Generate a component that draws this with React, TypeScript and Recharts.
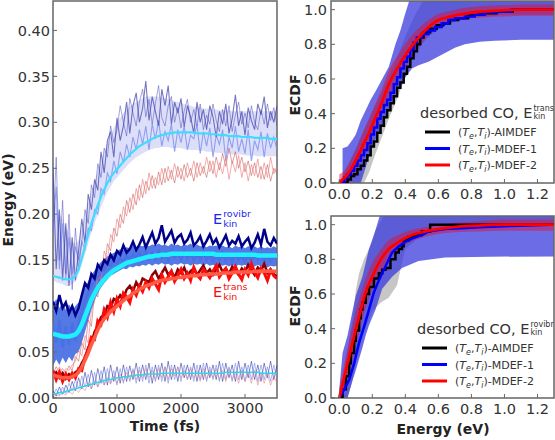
import React from "react";
import { ComposedChart, Line, Area, XAxis, YAxis, ReferenceArea } from "recharts";

// ---------- left panel: energy vs time ----------
const TIME_FS = [
  0, 50, 100, 150, 200, 250, 300, 350, 400, 450,
  500, 550, 600, 650, 700, 750, 800, 850, 900, 950,
  1000, 1050, 1100, 1150, 1200, 1250, 1300, 1350, 1400, 1450,
  1500, 1550, 1600, 1650, 1700, 1750, 1800, 1850, 1900, 1950,
  2000, 2050, 2100, 2150, 2200, 2250, 2300, 2350, 2400, 2450,
  2500, 2550, 2600, 2650, 2700, 2750, 2800, 2850, 2900, 2950,
  3000, 3050, 3100, 3150, 3200, 3250, 3300, 3350, 3400, 3450,
  3500,
];

// upper group (total)
const UP_CYAN = [
  0.133, 0.132, 0.131, 0.130, 0.129, 0.129, 0.130, 0.133, 0.140, 0.152,
  0.165, 0.178, 0.190, 0.200, 0.210, 0.219, 0.227, 0.234, 0.240, 0.245,
  0.249, 0.253, 0.257, 0.261, 0.265, 0.268, 0.271, 0.274, 0.276, 0.278,
  0.280, 0.282, 0.284, 0.285, 0.286, 0.287, 0.288, 0.288, 0.289, 0.289,
  0.289, 0.289, 0.289, 0.289, 0.289, 0.288, 0.288, 0.288, 0.288, 0.287,
  0.287, 0.287, 0.286, 0.286, 0.286, 0.285, 0.285, 0.285, 0.285, 0.284,
  0.284, 0.284, 0.284, 0.283, 0.283, 0.283, 0.283, 0.283, 0.282, 0.282,
  0.282,
];
const UP_LO = [
  0.128, 0.126, 0.125, 0.124, 0.122, 0.122, 0.124, 0.127, 0.134, 0.145,
  0.156, 0.168, 0.180, 0.190, 0.200, 0.208, 0.216, 0.224, 0.230, 0.236,
  0.240, 0.244, 0.248, 0.252, 0.256, 0.259, 0.262, 0.264, 0.266, 0.268,
  0.270, 0.271, 0.272, 0.272, 0.273, 0.273, 0.273, 0.272, 0.272, 0.272,
  0.272, 0.271, 0.271, 0.270, 0.270, 0.270, 0.269, 0.269, 0.268, 0.268,
  0.268, 0.267, 0.267, 0.266, 0.266, 0.266, 0.265, 0.265, 0.265, 0.265,
  0.264, 0.264, 0.264, 0.264, 0.263, 0.263, 0.263, 0.263, 0.263, 0.263,
  0.263,
];
const UP_HI = [
  0.215, 0.210, 0.200, 0.195, 0.185, 0.180, 0.170, 0.168, 0.172, 0.185,
  0.198, 0.212, 0.224, 0.236, 0.248, 0.258, 0.268, 0.278, 0.286, 0.294,
  0.300, 0.305, 0.310, 0.314, 0.317, 0.320, 0.322, 0.324, 0.326, 0.328,
  0.328, 0.328, 0.328, 0.328, 0.327, 0.326, 0.325, 0.324, 0.323, 0.322,
  0.321, 0.320, 0.319, 0.318, 0.317, 0.316, 0.316, 0.315, 0.315, 0.314,
  0.314, 0.314, 0.313, 0.313, 0.313, 0.313, 0.312, 0.312, 0.312, 0.312,
  0.312, 0.312, 0.312, 0.312, 0.312, 0.312, 0.312, 0.312, 0.312, 0.312,
  0.312,
];
const UP_DARK = [
  0.250, 0.140, 0.205, 0.128, 0.190, 0.122, 0.175, 0.128, 0.160, 0.195,
  0.168, 0.222, 0.205, 0.238, 0.226, 0.268, 0.245, 0.280, 0.290, 0.262,
  0.305, 0.280, 0.296, 0.322, 0.288, 0.318, 0.332, 0.300, 0.315, 0.345,
  0.302, 0.328, 0.312, 0.296, 0.336, 0.318, 0.340, 0.298, 0.322, 0.310,
  0.326, 0.295, 0.318, 0.306, 0.288, 0.322, 0.300, 0.314, 0.292, 0.318,
  0.306, 0.284, 0.312, 0.298, 0.320, 0.288, 0.304, 0.330, 0.296, 0.312,
  0.286, 0.316, 0.302, 0.292, 0.320, 0.308, 0.328, 0.294, 0.312, 0.300,
  0.318,
];
const UP_DARK_2 = [
  0.180, 0.262, 0.150, 0.215, 0.135, 0.200, 0.118, 0.185, 0.140, 0.170,
  0.205, 0.190, 0.232, 0.218, 0.255, 0.240, 0.272, 0.262, 0.296, 0.278,
  0.292, 0.318, 0.300, 0.285, 0.326, 0.310, 0.296, 0.322, 0.336, 0.306,
  0.325, 0.298, 0.320, 0.340, 0.305, 0.296, 0.318, 0.328, 0.300, 0.316,
  0.294, 0.312, 0.325, 0.300, 0.314, 0.296, 0.320, 0.292, 0.308, 0.298,
  0.320, 0.302, 0.290, 0.314, 0.296, 0.318, 0.290, 0.308, 0.322, 0.298,
  0.310, 0.294, 0.318, 0.300, 0.292, 0.314, 0.298, 0.320, 0.302, 0.316,
  0.296,
];
const UP_LIGHT = [
  0.180, 0.230, 0.140, 0.190, 0.130, 0.175, 0.135, 0.165, 0.150, 0.170,
  0.162, 0.185, 0.182, 0.205, 0.200, 0.228, 0.222, 0.245, 0.236, 0.258,
  0.244, 0.268, 0.256, 0.276, 0.262, 0.284, 0.270, 0.292, 0.276, 0.296,
  0.270, 0.298, 0.282, 0.302, 0.274, 0.290, 0.280, 0.298, 0.268, 0.292,
  0.278, 0.296, 0.270, 0.286, 0.282, 0.298, 0.266, 0.290, 0.274, 0.294,
  0.262, 0.286, 0.276, 0.292, 0.258, 0.284, 0.272, 0.296, 0.268, 0.282,
  0.266, 0.292, 0.258, 0.280, 0.270, 0.290, 0.262, 0.288, 0.272, 0.284,
  0.270,
];
const RED_THIN_A = [
  0.030, 0.028, 0.034, 0.026, 0.032, 0.030, 0.036, 0.040, 0.052, 0.046,
  0.068, 0.060, 0.095, 0.105, 0.135, 0.128, 0.160, 0.150, 0.178, 0.170,
  0.195, 0.185, 0.208, 0.198, 0.218, 0.205, 0.228, 0.215, 0.238, 0.222,
  0.245, 0.228, 0.240, 0.232, 0.250, 0.234, 0.252, 0.238, 0.255, 0.240,
  0.250, 0.236, 0.256, 0.242, 0.258, 0.240, 0.256, 0.244, 0.262, 0.246,
  0.258, 0.240, 0.256, 0.244, 0.262, 0.238, 0.258, 0.246, 0.264, 0.240,
  0.256, 0.236, 0.254, 0.242, 0.260, 0.238, 0.256, 0.240, 0.262, 0.244,
  0.252,
];
const RED_THIN_B = [
  0.026, 0.034, 0.028, 0.032, 0.027, 0.035, 0.030, 0.045, 0.040, 0.060,
  0.052, 0.085, 0.078, 0.115, 0.110, 0.145, 0.138, 0.168, 0.160, 0.185,
  0.176, 0.200, 0.190, 0.215, 0.202, 0.222, 0.210, 0.232, 0.218, 0.236,
  0.226, 0.242, 0.228, 0.246, 0.232, 0.250, 0.236, 0.248, 0.234, 0.252,
  0.238, 0.254, 0.240, 0.250, 0.236, 0.256, 0.242, 0.252, 0.240, 0.258,
  0.244, 0.262, 0.248, 0.266, 0.252, 0.272, 0.255, 0.268, 0.250, 0.262,
  0.246, 0.258, 0.242, 0.256, 0.240, 0.252, 0.238, 0.254, 0.236, 0.250,
  0.244,
];

// middle group (rovibr)
const MID_LO = [
  0.035, 0.042, 0.036, 0.044, 0.038, 0.045, 0.040, 0.048, 0.050, 0.060,
  0.072, 0.084, 0.096, 0.106, 0.114, 0.120, 0.125, 0.129, 0.133, 0.135,
  0.137, 0.139, 0.141, 0.140, 0.143, 0.142, 0.144, 0.143, 0.145, 0.144,
  0.146, 0.144, 0.146, 0.145, 0.147, 0.145, 0.146, 0.144, 0.146, 0.145,
  0.147, 0.145, 0.146, 0.144, 0.146, 0.145, 0.146, 0.144, 0.146, 0.144,
  0.145, 0.143, 0.145, 0.144, 0.145, 0.143, 0.145, 0.143, 0.145, 0.144,
  0.145, 0.143, 0.144, 0.143, 0.145, 0.143, 0.144, 0.142, 0.144, 0.143,
  0.144,
];
const MID_HI = [
  0.100, 0.108, 0.098, 0.104, 0.096, 0.102, 0.095, 0.100, 0.104, 0.112,
  0.120, 0.127, 0.133, 0.139, 0.144, 0.148, 0.151, 0.154, 0.156, 0.158,
  0.160, 0.162, 0.161, 0.164, 0.163, 0.166, 0.164, 0.166, 0.165, 0.167,
  0.165, 0.167, 0.166, 0.168, 0.166, 0.167, 0.165, 0.168, 0.166, 0.167,
  0.165, 0.167, 0.166, 0.168, 0.165, 0.167, 0.165, 0.166, 0.164, 0.166,
  0.165, 0.166, 0.164, 0.166, 0.164, 0.165, 0.163, 0.166, 0.164, 0.165,
  0.163, 0.165, 0.164, 0.165, 0.163, 0.165, 0.163, 0.164, 0.163, 0.165,
  0.163,
];
const MID_NAVY = [
  0.105, 0.095, 0.112, 0.098, 0.104, 0.092, 0.100, 0.090, 0.098, 0.112,
  0.125, 0.120, 0.135, 0.130, 0.145, 0.140, 0.150, 0.146, 0.156, 0.150,
  0.160, 0.156, 0.166, 0.158, 0.162, 0.170, 0.161, 0.167, 0.175, 0.164,
  0.172, 0.180, 0.168, 0.174, 0.188, 0.170, 0.176, 0.182, 0.169, 0.175,
  0.178, 0.168, 0.172, 0.180, 0.166, 0.170, 0.176, 0.165, 0.171, 0.178,
  0.168, 0.173, 0.164, 0.170, 0.177, 0.166, 0.171, 0.168, 0.176, 0.165,
  0.170, 0.174, 0.163, 0.169, 0.178, 0.167, 0.184, 0.170, 0.166, 0.174,
  0.168,
];
const MID_BLUE = [
  0.080, 0.060, 0.085, 0.055, 0.078, 0.058, 0.082, 0.062, 0.080, 0.095,
  0.105, 0.115, 0.122, 0.128, 0.132, 0.138, 0.140, 0.146, 0.144, 0.150,
  0.147, 0.152, 0.148, 0.155, 0.150, 0.157, 0.152, 0.158, 0.150, 0.160,
  0.152, 0.158, 0.151, 0.160, 0.152, 0.158, 0.150, 0.160, 0.153, 0.158,
  0.150, 0.160, 0.152, 0.158, 0.150, 0.157, 0.151, 0.159, 0.150, 0.157,
  0.149, 0.156, 0.150, 0.158, 0.149, 0.156, 0.148, 0.157, 0.150, 0.156,
  0.148, 0.155, 0.149, 0.157, 0.150, 0.156, 0.148, 0.155, 0.149, 0.156,
  0.150,
];
const MID_CYAN = [
  0.070, 0.069, 0.068, 0.067, 0.067, 0.067, 0.068, 0.069, 0.073, 0.080,
  0.089, 0.098, 0.107, 0.114, 0.120, 0.125, 0.129, 0.133, 0.136, 0.139,
  0.141, 0.143, 0.145, 0.147, 0.148, 0.149, 0.150, 0.151, 0.152, 0.153,
  0.154, 0.154, 0.155, 0.155, 0.156, 0.156, 0.156, 0.157, 0.157, 0.157,
  0.157, 0.157, 0.157, 0.157, 0.157, 0.157, 0.157, 0.157, 0.157, 0.157,
  0.157, 0.156, 0.156, 0.156, 0.156, 0.156, 0.156, 0.156, 0.156, 0.156,
  0.156, 0.156, 0.156, 0.156, 0.155, 0.155, 0.155, 0.155, 0.155, 0.155,
  0.155,
];

// red group (trans)
const RED_SMOOTH = [
  0.025, 0.024, 0.023, 0.022, 0.022, 0.022, 0.023, 0.025, 0.028, 0.034,
  0.041, 0.049, 0.058, 0.066, 0.074, 0.081, 0.086, 0.090, 0.094, 0.097,
  0.100, 0.103, 0.106, 0.109, 0.111, 0.114, 0.116, 0.118, 0.120, 0.122,
  0.123, 0.124, 0.126, 0.127, 0.128, 0.129, 0.129, 0.130, 0.130, 0.131,
  0.131, 0.132, 0.132, 0.133, 0.133, 0.133, 0.134, 0.134, 0.134, 0.135,
  0.135, 0.135, 0.135, 0.136, 0.136, 0.136, 0.136, 0.137, 0.137, 0.137,
  0.137, 0.137, 0.137, 0.138, 0.138, 0.138, 0.138, 0.138, 0.138, 0.138,
  0.138,
];
const RED_BRIGHT = [
  0.030, 0.020, 0.028, 0.018, 0.026, 0.020, 0.027, 0.022, 0.032, 0.030,
  0.045, 0.052, 0.066, 0.064, 0.084, 0.080, 0.096, 0.088, 0.104, 0.094,
  0.108, 0.100, 0.114, 0.110, 0.104, 0.118, 0.112, 0.122, 0.116, 0.126,
  0.120, 0.130, 0.124, 0.118, 0.134, 0.126, 0.132, 0.138, 0.127, 0.133,
  0.140, 0.130, 0.136, 0.128, 0.142, 0.134, 0.130, 0.140, 0.136, 0.131,
  0.138, 0.144, 0.132, 0.137, 0.141, 0.130, 0.136, 0.143, 0.135, 0.129,
  0.140, 0.134, 0.146, 0.137, 0.131, 0.141, 0.136, 0.128, 0.139, 0.133,
  0.130,
];
const RED_DARK = [
  0.024, 0.028, 0.022, 0.027, 0.021, 0.026, 0.023, 0.028, 0.030, 0.038,
  0.044, 0.055, 0.060, 0.072, 0.078, 0.088, 0.090, 0.100, 0.098, 0.108,
  0.106, 0.112, 0.108, 0.118, 0.122, 0.116, 0.126, 0.120, 0.130, 0.128,
  0.126, 0.134, 0.138, 0.130, 0.136, 0.142, 0.134, 0.138, 0.131, 0.140,
  0.136, 0.142, 0.133, 0.138, 0.141, 0.134, 0.139, 0.144, 0.136, 0.140,
  0.134, 0.140, 0.145, 0.137, 0.141, 0.135, 0.143, 0.138, 0.134, 0.141,
  0.137, 0.145, 0.139, 0.134, 0.142, 0.138, 0.146, 0.136, 0.140, 0.135,
  0.132,
];

// bottom group
const LOW_CYAN = [
  0.004, 0.005, 0.006, 0.006, 0.007, 0.008, 0.009, 0.010, 0.011, 0.012,
  0.013, 0.014, 0.015, 0.016, 0.017, 0.018, 0.019, 0.020, 0.020, 0.021,
  0.022, 0.022, 0.023, 0.023, 0.024, 0.024, 0.025, 0.025, 0.025, 0.026,
  0.026, 0.026, 0.026, 0.026, 0.027, 0.027, 0.027, 0.027, 0.027, 0.027,
  0.027, 0.027, 0.027, 0.027, 0.027, 0.027, 0.027, 0.027, 0.027, 0.027,
  0.027, 0.027, 0.027, 0.027, 0.028, 0.028, 0.028, 0.028, 0.028, 0.028,
  0.028, 0.028, 0.028, 0.028, 0.028, 0.027, 0.027, 0.027, 0.027, 0.027,
  0.027,
];
const LOW_NAVY = [
  0.008, 0.002, 0.012, 0.004, 0.014, 0.006, 0.018, 0.008, 0.022, 0.010,
  0.028, 0.012, 0.030, 0.014, 0.032, 0.016, 0.034, 0.014, 0.036, 0.018,
  0.034, 0.016, 0.036, 0.018, 0.035, 0.020, 0.038, 0.018, 0.036, 0.020,
  0.038, 0.016, 0.036, 0.020, 0.038, 0.018, 0.040, 0.020, 0.036, 0.018,
  0.038, 0.022, 0.036, 0.020, 0.038, 0.018, 0.036, 0.020, 0.038, 0.022,
  0.036, 0.020, 0.040, 0.018, 0.038, 0.022, 0.036, 0.018, 0.040, 0.020,
  0.038, 0.022, 0.040, 0.020, 0.036, 0.018, 0.038, 0.022, 0.040, 0.020,
  0.036,
];
const LOW_LIGHT = [
  0.002, 0.010, 0.003, 0.012, 0.005, 0.016, 0.008, 0.020, 0.010, 0.024,
  0.012, 0.026, 0.010, 0.028, 0.012, 0.030, 0.014, 0.032, 0.016, 0.030,
  0.014, 0.032, 0.016, 0.034, 0.018, 0.032, 0.016, 0.034, 0.018, 0.036,
  0.016, 0.034, 0.018, 0.036, 0.018, 0.034, 0.016, 0.036, 0.020, 0.034,
  0.018, 0.036, 0.020, 0.034, 0.018, 0.036, 0.020, 0.038, 0.018, 0.034,
  0.020, 0.036, 0.018, 0.038, 0.020, 0.034, 0.018, 0.038, 0.020, 0.034,
  0.018, 0.036, 0.020, 0.038, 0.018, 0.036, 0.020, 0.034, 0.018, 0.036,
  0.020,
];
const LOW_RED = [
  0.000, 0.004, 0.002, 0.006, 0.003, 0.008, 0.004, 0.010, 0.006, 0.012,
  0.008, 0.016, 0.010, 0.018, 0.012, 0.020, 0.014, 0.022, 0.015, 0.024,
  0.016, 0.026, 0.018, 0.028, 0.020, 0.030, 0.020, 0.030, 0.022, 0.032,
  0.022, 0.030, 0.020, 0.032, 0.022, 0.034, 0.020, 0.032, 0.024, 0.034,
  0.022, 0.030, 0.020, 0.032, 0.022, 0.030, 0.018, 0.032, 0.020, 0.030,
  0.022, 0.032, 0.020, 0.030, 0.018, 0.032, 0.020, 0.028, 0.016, 0.030,
  0.018, 0.028, 0.016, 0.030, 0.014, 0.028, 0.016, 0.026, 0.014, 0.024,
  0.016,
];

const ENERGY_TICKS = [0, 0.05, 0.1, 0.15, 0.2, 0.25, 0.3, 0.35, 0.4];
const TIME_TICKS = [0, 1000, 2000, 3000];

// ---------- right panels: ECDF ----------
const ECDF_TICKS = [0, 0.2, 0.4, 0.6, 0.8, 1.0];
const E_TICKS = [0, 0.2, 0.4, 0.6, 0.8, 1.0, 1.2];

// translational
const TR_AIMDEF_E = [0.00, 0.05, 0.07, 0.09, 0.11, 0.13, 0.15, 0.17, 0.19, 0.21, 0.23, 0.25, 0.27, 0.29, 0.31, 0.33, 0.35, 0.37, 0.39, 0.41, 0.43, 0.45, 0.47, 0.49, 0.51, 0.55, 0.59, 0.63, 0.67, 0.72, 0.78, 0.85, 0.95, 1.05, 1.3];
const TR_AIMDEF_Y = [0.00, 0.02, 0.04, 0.05, 0.08, 0.10, 0.13, 0.16, 0.21, 0.24, 0.29, 0.33, 0.38, 0.42, 0.46, 0.50, 0.55, 0.58, 0.63, 0.67, 0.72, 0.76, 0.80, 0.84, 0.87, 0.89, 0.91, 0.92, 0.94, 0.95, 0.97, 0.98, 0.99, 1.00, 1.00];
const TR_MDEF1_E = [0.00, 0.03, 0.05, 0.07, 0.09, 0.11, 0.13, 0.15, 0.17, 0.19, 0.21, 0.23, 0.25, 0.27, 0.29, 0.31, 0.33, 0.35, 0.37, 0.39, 0.41, 0.43, 0.45, 0.47, 0.50, 0.54, 0.58, 0.62, 0.66, 0.70, 0.76, 0.82, 0.88, 0.96, 1.04, 1.30];
const TR_MDEF1_Y = [0.00, 0.03, 0.05, 0.07, 0.10, 0.13, 0.16, 0.19, 0.23, 0.28, 0.32, 0.37, 0.41, 0.45, 0.48, 0.52, 0.57, 0.61, 0.66, 0.70, 0.73, 0.77, 0.81, 0.84, 0.86, 0.88, 0.90, 0.92, 0.94, 0.95, 0.96, 0.97, 0.985, 0.99, 1.00, 1.00];
const TR_MDEF2_E = [0, 0.02, 0.05, 0.10, 0.13, 0.18, 0.22, 0.26, 0.30, 0.35, 0.42, 0.50, 0.60, 0.66, 0.75, 0.85, 1.0, 1.1, 1.3];
const TR_MDEF2_Y = [0, 0.02, 0.05, 0.13, 0.19, 0.29, 0.38, 0.47, 0.57, 0.66, 0.765, 0.86, 0.94, 0.957, 0.975, 0.988, 0.997, 1.0, 1.0];
const TR_MDEF2_LO = [0, 0, 0, 0.07, 0.12, 0.21, 0.30, 0.39, 0.49, 0.59, 0.70, 0.81, 0.90, 0.925, 0.945, 0.955, 0.96, 0.965, 0.965];
const TR_MDEF2_HI = [0.05, 0.06, 0.10, 0.19, 0.26, 0.37, 0.46, 0.55, 0.65, 0.73, 0.83, 0.91, 0.975, 0.99, 1.01, 1.02, 1.025, 1.03, 1.03];
const TR_MDEF1_BAND_E = [0.00, 0.02, 0.02, 0.05, 0.08, 0.10, 0.13, 0.16, 0.19, 0.22, 0.26, 0.30, 0.34, 0.37, 0.40, 0.44, 0.48, 0.54, 0.60, 0.64, 0.70, 0.76, 0.85, 0.94, 1.10, 1.30];
const TR_MDEF1_LO = [0, 0, 0, 0, 0, 0, 0, 0.09, 0.19, 0.25, 0.33, 0.42, 0.51, 0.57, 0.61, 0.66, 0.68, 0.70, 0.73, 0.75, 0.78, 0.80, 0.815, 0.82, 0.826, 0.826];
const TR_MDEF1_HI = [0, 0, 0.20, 0.21, 0.25, 0.28, 0.36, 0.42, 0.48, 0.53, 0.60, 0.67, 0.80, 0.88, 0.98, 1.10, 1.10, 1.10, 1.10, 1.10, 1.10, 1.10, 1.10, 1.10, 1.10, 1.10];
const TR_AIMDEF_BAND_E = [0, 0.05, 0.10, 0.15, 0.18, 0.22, 0.26, 0.30, 0.34, 0.38, 0.42, 0.46, 0.50, 0.56, 0.62, 0.70, 0.80, 1.0, 1.3];
const TR_AIMDEF_LO = [0, 0, 0, 0, 0.06, 0.17, 0.27, 0.37, 0.46, 0.56, 0.66, 0.74, 0.80, 0.86, 0.90, 0.93, 0.95, 0.97, 0.97];
const TR_AIMDEF_HI = [0, 0.10, 0.20, 0.31, 0.37, 0.45, 0.53, 0.61, 0.70, 0.80, 0.89, 0.97, 1.04, 1.10, 1.10, 1.10, 1.10, 1.10, 1.10];

// rovibrational
const RV_AIMDEF_E = [0, 0.02, 0.04, 0.06, 0.07, 0.09, 0.10, 0.12, 0.13, 0.14, 0.16, 0.18, 0.21, 0.24, 0.26, 0.28, 0.31, 0.34, 0.36, 0.38, 0.39, 0.42, 0.46, 0.50, 0.55, 1.3];
const RV_AIMDEF_Y = [0, 0.05, 0.125, 0.20, 0.26, 0.33, 0.39, 0.46, 0.51, 0.55, 0.60, 0.64, 0.69, 0.72, 0.74, 0.75, 0.80, 0.84, 0.86, 0.875, 0.91, 0.93, 0.94, 0.96, 1.0, 1.0];
const RV_MDEF1_E = [0, 0.03, 0.06, 0.09, 0.12, 0.15, 0.18, 0.21, 0.24, 0.28, 0.32, 0.36, 0.40, 0.44, 0.50, 0.54, 0.64, 0.74, 0.84, 1.04, 1.28, 1.3];
const RV_MDEF1_Y = [0, 0.05, 0.105, 0.20, 0.32, 0.41, 0.51, 0.61, 0.68, 0.76, 0.84, 0.875, 0.90, 0.92, 0.94, 0.96, 0.975, 0.98, 0.985, 0.993, 1.0, 1.0];
const RV_MDEF2_E = [0, 0.04, 0.08, 0.12, 0.16, 0.20, 0.24, 0.30, 0.36, 0.44, 0.54, 0.68, 0.84, 1.0, 1.3];
const RV_MDEF2_Y = [0, 0.16, 0.32, 0.47, 0.61, 0.70, 0.78, 0.86, 0.90, 0.94, 0.965, 0.985, 0.995, 1.0, 1.0];
const RV_MDEF2_LO = [0, 0.07, 0.22, 0.38, 0.52, 0.63, 0.71, 0.80, 0.86, 0.905, 0.935, 0.955, 0.96, 0.965, 0.965];
const RV_MDEF2_HI = [0.05, 0.24, 0.42, 0.57, 0.69, 0.78, 0.84, 0.91, 0.94, 0.97, 0.99, 1.01, 1.02, 1.03, 1.03];
const RV_MDEF1_BAND_E = [0, 0.02, 0.05, 0.08, 0.10, 0.14, 0.16, 0.18, 0.22, 0.26, 0.32, 0.38, 0.48, 0.64, 0.9, 1.3];
const RV_MDEF1_LO = [0, 0, 0, 0.10, 0.16, 0.29, 0.36, 0.42, 0.51, 0.63, 0.70, 0.75, 0.79, 0.81, 0.815, 0.817];
const RV_MDEF1_HI = [0.05, 0.26, 0.36, 0.50, 0.59, 0.70, 0.78, 0.86, 0.97, 1.1, 1.1, 1.1, 1.1, 1.1, 1.1, 1.1];
const RV_AIMDEF_BAND_E = [0, 0.03, 0.05, 0.08, 0.10, 0.12, 0.15, 0.20, 0.22, 0.25, 0.30, 0.35, 0.38, 0.40, 0.45, 0.50, 0.55, 1.3];
const RV_AIMDEF_LO = [0, 0, 0, 0.10, 0.20, 0.27, 0.38, 0.50, 0.52, 0.55, 0.58, 0.65, 0.78, 0.86, 0.90, 0.95, 0.99, 1.0];
const RV_AIMDEF_HI = [0, 0.15, 0.28, 0.45, 0.62, 0.72, 0.80, 0.90, 0.97, 1.02, 1.1, 1.1, 1.1, 1.1, 1.1, 1.1, 1.1, 1.1];

const FONT = "'DejaVu Sans', sans-serif";
const TICK = { fill: "#333", fontSize: 14.5, fontFamily: FONT };
const FRAME = "#666";

const timeRows = TIME_FS.map((t, i) => ({
  t,
  upBand: [UP_LO[i], UP_HI[i]],
  upCyan: UP_CYAN[i],
  upDark: UP_DARK[i],
  upDark2: UP_DARK_2[i],
  upLight: UP_LIGHT[i],
  redThinA: RED_THIN_A[i],
  redThinB: RED_THIN_B[i],
  midBand: [MID_LO[i], MID_HI[i]],
  midNavy: MID_NAVY[i],
  midBlue: MID_BLUE[i],
  midCyan: MID_CYAN[i],
  redSmooth: RED_SMOOTH[i],
  redBright: RED_BRIGHT[i],
  redDark: RED_DARK[i],
  lowCyan: LOW_CYAN[i],
  lowNavy: LOW_NAVY[i],
  lowLight: LOW_LIGHT[i],
  lowRed: LOW_RED[i],
}));

const pts = (es: number[], ys: number[]) => es.map((e, i) => ({ e, y: ys[i] }));
const band = (es: number[], lo: number[], hi: number[]) =>
  es.map((e, i) => ({ e, band: [lo[i], hi[i]] }));

function noisy(key: string, color: string, width: number, opacity = 1) {
  return (
    <Line key={key} dataKey={key} type="linear" stroke={color} strokeWidth={width}
      strokeOpacity={opacity} dot={false} activeDot={false} isAnimationActive={false} />
  );
}

// mirrored axes give the inward ticks on the right and top edges
function mirrorAxes(xDomain: number[], xTicks: number[], yDomain: number[], yTicks: number[]) {
  return [
    <XAxis key="xt" xAxisId="top" orientation="top" type="number" domain={xDomain} ticks={xTicks}
      allowDataOverflow height={1} tick={false} tickSize={-4} axisLine={false}
      tickLine={{ stroke: FRAME }} />,
    <YAxis key="yr" yAxisId="right" orientation="right" type="number" domain={yDomain} ticks={yTicks}
      allowDataOverflow width={1} tick={false} tickSize={-4} axisLine={false}
      tickLine={{ stroke: FRAME }} />,
  ];
}

function TimePanel() {
  return (
    <ComposedChart width={280} height={440} data={timeRows}
      margin={{ top: 0, right: 2, bottom: 0, left: 0 }}>
      <XAxis dataKey="t" type="number" domain={[0, 3500]} ticks={TIME_TICKS} interval={0}
        allowDataOverflow height={42} tick={TICK} tickSize={-4} tickMargin={9}
        axisLine={false} tickLine={{ stroke: FRAME }} />
      <YAxis type="number" domain={[0, 0.432]} ticks={ENERGY_TICKS} interval={0}
        allowDataOverflow width={53} tick={TICK} tickSize={-4} tickMargin={7}
        tickFormatter={(v: number) => v.toFixed(2)}
        axisLine={false} tickLine={{ stroke: FRAME }} />
      {mirrorAxes([0, 3500], TIME_TICKS, [0, 0.432], ENERGY_TICKS)}
      <Area dataKey="upBand" type="linear" stroke="none" fill="#9ea2ea" fillOpacity={0.35}
        isAnimationActive={false} activeDot={false} />
      {noisy("upLight", "#7b8ff0", 1.1, 0.8)}
      {noisy("upDark2", "#5a5ac0", 1, 0.55)}
      {noisy("upDark", "#3d3daa", 1.1, 0.7)}
      {noisy("upCyan", "#3fdcff", 2.2)}
      {noisy("redThinB", "#b83a3a", 0.8, 0.6)}
      {noisy("redThinA", "#f07b7b", 0.9, 0.7)}
      {noisy("lowLight", "#6f8cf0", 1, 0.6)}
      {noisy("lowNavy", "#2a2aa0", 1, 0.55)}
      {noisy("lowRed", "#e86a6a", 0.8, 0.6)}
      {noisy("lowCyan", "#2fd5ee", 1.5)}
      <Area dataKey="midBand" type="linear" stroke="none" fill="#4169e1" fillOpacity={0.9}
        isAnimationActive={false} activeDot={false} />
      {noisy("midBlue", "#4a70e6", 2.5)}
      {noisy("midNavy", "#00008b", 2.5)}
      {noisy("midCyan", "#1ff0ff", 4.5)}
      {noisy("redDark", "#8b0000", 2.5)}
      {noisy("redBright", "#ff0a0a", 3)}
      {noisy("redSmooth", "#ff5c45", 3.5)}
      <ReferenceArea x1={0} x2={3500} y1={0} y2={0.432} fill="none" stroke={FRAME}
        strokeWidth={1.5} ifOverflow="visible" />
    </ComposedChart>
  );
}

type EcdfProps = {
  height: number;
  top: number;
  xHeight: number;
  black: { e: number; y: number }[];
  blue: { e: number; y: number }[];
  red: { e: number; y: number }[];
  redBand: { e: number; band: number[] }[];
  blueBand: { e: number; band: number[] }[];
  grayBand: { e: number; band: number[] }[];
  blueStep: boolean;
};

function EcdfPanel(p: EcdfProps) {
  return (
    <ComposedChart width={275} height={p.height} margin={{ top: p.top, right: 0, bottom: 0, left: 0 }}>
      <XAxis dataKey="e" type="number" domain={[-0.05, 1.3]} ticks={E_TICKS} interval={0}
        allowDataOverflow height={p.xHeight} tick={TICK} tickSize={-4} tickMargin={10}
        tickFormatter={(v: number) => v.toFixed(1)} axisLine={false} tickLine={{ stroke: FRAME }} />
      <YAxis type="number" domain={[0, 1.05]} ticks={ECDF_TICKS} interval={0}
        allowDataOverflow width={51} tick={TICK} tickSize={-4} tickMargin={8}
        tickFormatter={(v: number) => v.toFixed(1)} axisLine={false} tickLine={{ stroke: FRAME }} />
      {mirrorAxes([-0.05, 1.3], E_TICKS, [0, 1.05], ECDF_TICKS)}
      <Area data={p.grayBand} dataKey="band" type="linear" stroke="none" fill="#a8a8a8"
        fillOpacity={0.65} isAnimationActive={false} activeDot={false} />
      <Area data={p.blueBand} dataKey="band" type="linear" stroke="none" fill="#3333dd"
        fillOpacity={0.72} isAnimationActive={false} activeDot={false} />
      <Area data={p.redBand} dataKey="band" type="monotone" stroke="none" fill="#e0103a"
        fillOpacity={0.5} isAnimationActive={false} activeDot={false} />
      <Line data={p.black} dataKey="y" type="stepAfter" stroke="#000" strokeWidth={2.5}
        dot={false} activeDot={false} isAnimationActive={false} />
      <Line data={p.blue} dataKey="y" type={p.blueStep ? "stepAfter" : "linear"} stroke="#0000ff"
        strokeWidth={2.5} dot={false} activeDot={false} isAnimationActive={false} />
      <Line data={p.red} dataKey="y" type="monotone" stroke="#ff0000" strokeWidth={2.8}
        dot={false} activeDot={false} isAnimationActive={false} />
      <ReferenceArea x1={-0.05} x2={1.3} y1={0} y2={1.05} fill="none" stroke={FRAME}
        strokeWidth={1.5} ifOverflow="visible" />
    </ComposedChart>
  );
}

// E with stacked super/subscript: the subscript follows E, the superscript steps back over it
function Ekin({ x, y, sup, color }: { x: number; y: number; sup: string; color: string }) {
  return (
    <text x={x} y={y} fill={color} fontFamily={FONT} fontSize={14.5}>
      E
      <tspan fontSize={9.5} dx={1} dy={3}>kin</tspan>
      <tspan fontSize={9.5} dx={-14.2} dy={-10}>{sup}</tspan>
    </text>
  );
}

function Entry({ x, y, color, name }: { x: number; y: number; color: string; name: string }) {
  return (
    <g>
      <line x1={x} x2={x + 25} y1={y} y2={y} stroke={color} strokeWidth={3} />
      <text x={x + 33} y={y + 4} fontSize={11} fill="#333" fontFamily={FONT}>
        (<tspan fontStyle="italic">T</tspan>
        <tspan fontStyle="italic" fontSize={8} dy={2.5}>e</tspan>
        <tspan dy={-2.5}>,</tspan>
        <tspan fontStyle="italic">T</tspan>
        <tspan fontStyle="italic" fontSize={8} dy={2.5}>i</tspan>
        <tspan dy={-2.5}>){name}</tspan>
      </text>
    </g>
  );
}

function LegendBox({ x, y, sup }: { x: number; y: number; sup: string }) {
  return (
    <g>
      <text x={x} y={y} fontSize={14.5} fill="#333" fontFamily={FONT}>
        desorbed CO, E
        <tspan fontSize={8} dx={1} dy={1}>kin</tspan>
        <tspan fontSize={8} dx={-11.9} dy={-8.5}>{sup}</tspan>
      </text>
      <Entry x={x + 5} y={y + 14} color="#000" name="-AIMDEF" />
      <Entry x={x + 5} y={y + 30.5} color="#0000ff" name="-MDEF-1" />
      <Entry x={x + 5} y={y + 47} color="#ff0000" name="-MDEF-2" />
    </g>
  );
}

export default function App() {
  return (
    <div style={{ position: "absolute", left: 0, top: 0, width: 555, height: 440, background: "#fff", overflow: "hidden" }}>
      <div style={{ position: "absolute", left: 0, top: 0 }}>
        <TimePanel />
      </div>
      <div style={{ position: "absolute", left: 280, top: 0 }}>
        <EcdfPanel height={210} top={0} xHeight={27}
          black={pts(TR_AIMDEF_E, TR_AIMDEF_Y)} blue={pts(TR_MDEF1_E, TR_MDEF1_Y)}
          red={pts(TR_MDEF2_E, TR_MDEF2_Y)}
          redBand={band(TR_MDEF2_E, TR_MDEF2_LO, TR_MDEF2_HI)}
          blueBand={band(TR_MDEF1_BAND_E, TR_MDEF1_LO, TR_MDEF1_HI)}
          grayBand={band(TR_AIMDEF_BAND_E, TR_AIMDEF_LO, TR_AIMDEF_HI)} blueStep />
      </div>
      <div style={{ position: "absolute", left: 280, top: 210 }}>
        <EcdfPanel height={230} top={5} xHeight={42}
          black={pts(RV_AIMDEF_E, RV_AIMDEF_Y)} blue={pts(RV_MDEF1_E, RV_MDEF1_Y)}
          red={pts(RV_MDEF2_E, RV_MDEF2_Y)}
          redBand={band(RV_MDEF2_E, RV_MDEF2_LO, RV_MDEF2_HI)}
          blueBand={band(RV_MDEF1_BAND_E, RV_MDEF1_LO, RV_MDEF1_HI)}
          grayBand={band(RV_AIMDEF_BAND_E, RV_AIMDEF_LO, RV_AIMDEF_HI)} blueStep={false} />
      </div>
      <svg width={555} height={440} style={{ position: "absolute", left: 0, top: 0, pointerEvents: "none" }}>
        <g fontFamily={FONT} fontWeight="bold" fontSize={14} fill="#222" textAnchor="middle">
          <text x={13} y={200} transform="rotate(-90 13 200)">Energy (eV)</text>
          <text x={165} y={431}>Time (fs)</text>
          <text x={300} y={95} transform="rotate(-90 300 95)">ECDF</text>
          <text x={300} y={306} transform="rotate(-90 300 306)">ECDF</text>
          <text x={443} y={434}>Energy (eV)</text>
        </g>
        <Ekin x={213} y={224} sup="rovibr" color="#1f1ff0" />
        <Ekin x={213} y={297} sup="trans" color="#f01010" />
        <LegendBox x={420} y={118} sup="trans" />
        <LegendBox x={417} y={334} sup="rovibr" />
      </svg>
    </div>
  );
}
